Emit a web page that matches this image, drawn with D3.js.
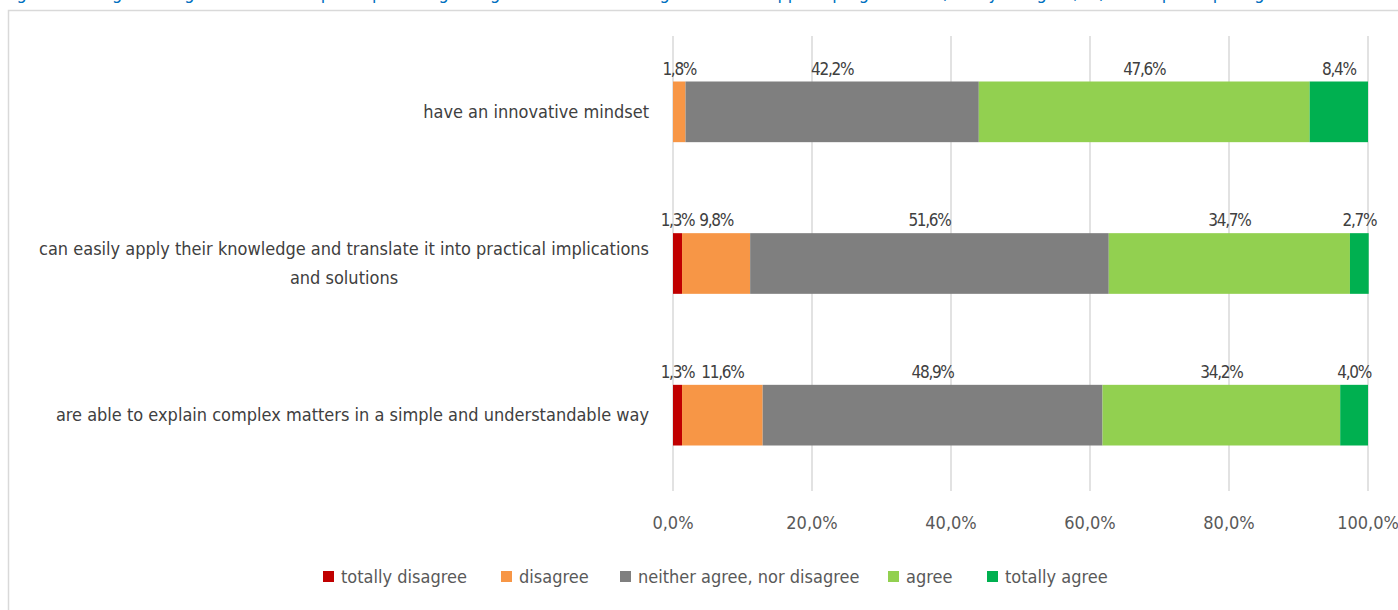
<!DOCTYPE html>
<html>
<head>
<meta charset="utf-8">
<script src="https://cdn.jsdelivr.net/npm/d3@7"></script>
<style>
  body { margin: 0; background: #fff; }
  svg text { font-family: "Liberation Sans Narrow", "DejaVu Sans Condensed", "Roboto", sans-serif; }
</style>
</head>
<body>
<svg id="chart" width="1398" height="610"></svg>
<script>
// statements (rows, top to bottom)
let statements = [
    ["have an innovative mindset"],
    ["can easily apply their knowledge and translate it into practical implications", "and solutions"],
    ["are able to explain complex matters in a simple and understandable way"]
];

let answers = ["totally disagree", "disagree", "neither agree, nor disagree", "agree", "totally agree"];

// shares per answer, one value per statement
let totallyDisagree = [0, 1.3, 1.3];
let disagree = [1.8, 9.8, 11.6];
let neither = [42.2, 51.6, 48.9];
let agree = [47.6, 34.7, 34.2];
let totallyAgree = [8.4, 2.7, 4.0];

let ticks = [0, 20, 40, 60, 80, 100];

let colors = ["#c00000", "#f79646", "#7f7f7f", "#92d050", "#00b050"];

//layout
let width = 1398;
let height = 610;
let plotLeft = 673;
let plotRight = 1368;
let plotTop = 36;
let plotBottom = 491;

let svg = d3.select("#chart");

// title line, mostly cut off at the top (as in the source)
svg.append("text")
    .attr("x", 4)
    .attr("y", -1)
    .attr("fill", "#0070c0")
    .style("font-size", "18px")
    .text("Figure 18: Degree of agreement of the participants regarding the statements on graduates of applied programmes (totally disagree, ...) in the participating countries");

// frame
svg.append("rect")
    .attr("x", 8.5)
    .attr("y", 10.5)
    .attr("width", width + 20)
    .attr("height", height + 20)
    .attr("fill", "none")
    .attr("stroke", "#d9d9d9")
    .attr("stroke-width", 1.5);

let series = [totallyDisagree, disagree, neither, agree, totallyAgree];

let rows = statements.map(function(s, i) {
    let r = { key: i };
    answers.forEach(function(a, j) { r[a] = series[j][i]; });
    return r;
});

let x = d3.scaleLinear().domain([0, 100]).range([plotLeft, plotRight]);
let y = d3.scaleBand().domain(d3.range(statements.length)).range([plotTop, plotBottom])
    .paddingInner(0.6).paddingOuter(0.3);

// grid
svg.append("g")
    .selectAll("line")
    .data(ticks)
    .enter()
    .append("line")
    .attr("x1", d => x(d))
    .attr("x2", d => x(d))
    .attr("y1", plotTop)
    .attr("y2", plotBottom)
    .attr("stroke", "#d9d9d9")
    .attr("stroke-width", 1.5);

let stack = d3.stack().keys(answers)(rows);

let layers = svg.append("g")
    .selectAll("g")
    .data(stack)
    .enter()
    .append("g")
    .attr("fill", (d, i) => colors[i]);

layers.selectAll("rect")
    .data(d => d)
    .enter()
    .append("rect")
    .attr("x", d => x(d[0]))
    .attr("width", d => x(d[1]) - x(d[0]))
    .attr("y", (d, i) => y(i))
    .attr("height", y.bandwidth());

// value labels above each segment
layers.selectAll("text")
    .data(d => d.filter(s => s[1] - s[0] > 0))
    .enter()
    .append("text")
    .attr("x", d => x((d[0] + d[1]) / 2))
    .attr("y", d => y(d.data.key) - 7)
    .attr("text-anchor", "middle")
    .attr("fill", "#404040")
    .style("font-size", "17px")
    .style("letter-spacing", "-1.3px")
    .text(d => (d[1] - d[0]).toFixed(1).replace(".", ",") + "%");

// category labels
let labels = svg.append("g")
    .selectAll("text")
    .data(statements)
    .enter()
    .append("text")
    .attr("fill", "#404040")
    .style("font-size", "18px")
    .attr("text-anchor", "end");

labels.each(function(lines, i) {
    let t = d3.select(this);
    let cy = y(i) + y.bandwidth() / 2;
    let y0 = cy - (lines.length - 1) * 29 / 2 + 6;
    let first = t.append("tspan").attr("x", plotLeft - 24).attr("y", y0).text(lines[0]);
    let w = first.node().getComputedTextLength();
    lines.slice(1).forEach(function(l, k) {
        t.append("tspan")
            .attr("x", plotLeft - 24 - w / 2)
            .attr("y", y0 + (k + 1) * 29)
            .attr("text-anchor", "middle")
            .text(l);
    });
});

// x axis labels
svg.append("g")
    .selectAll("text")
    .data(ticks)
    .enter()
    .append("text")
    .attr("x", d => x(d))
    .attr("y", 529)
    .attr("text-anchor", "middle")
    .attr("fill", "#595959")
    .style("font-size", "18px")
    .text(d => d.toFixed(1).replace(".", ",") + "%");

// legend
let legendX = [323, 501, 620, 888, 987];
let legend = svg.append("g")
    .selectAll("g")
    .data(answers)
    .enter()
    .append("g")
    .attr("transform", (d, i) => `translate(${legendX[i]},577)`);

legend.append("rect")
    .attr("x", 0)
    .attr("y", -6)
    .attr("width", 11)
    .attr("height", 11)
    .attr("fill", (d, i) => colors[i]);

legend.append("text")
    .attr("x", 18)
    .attr("y", 6)
    .attr("fill", "#595959")
    .style("font-size", "18px")
    .text(d => d);
</script>
</body>
</html>
